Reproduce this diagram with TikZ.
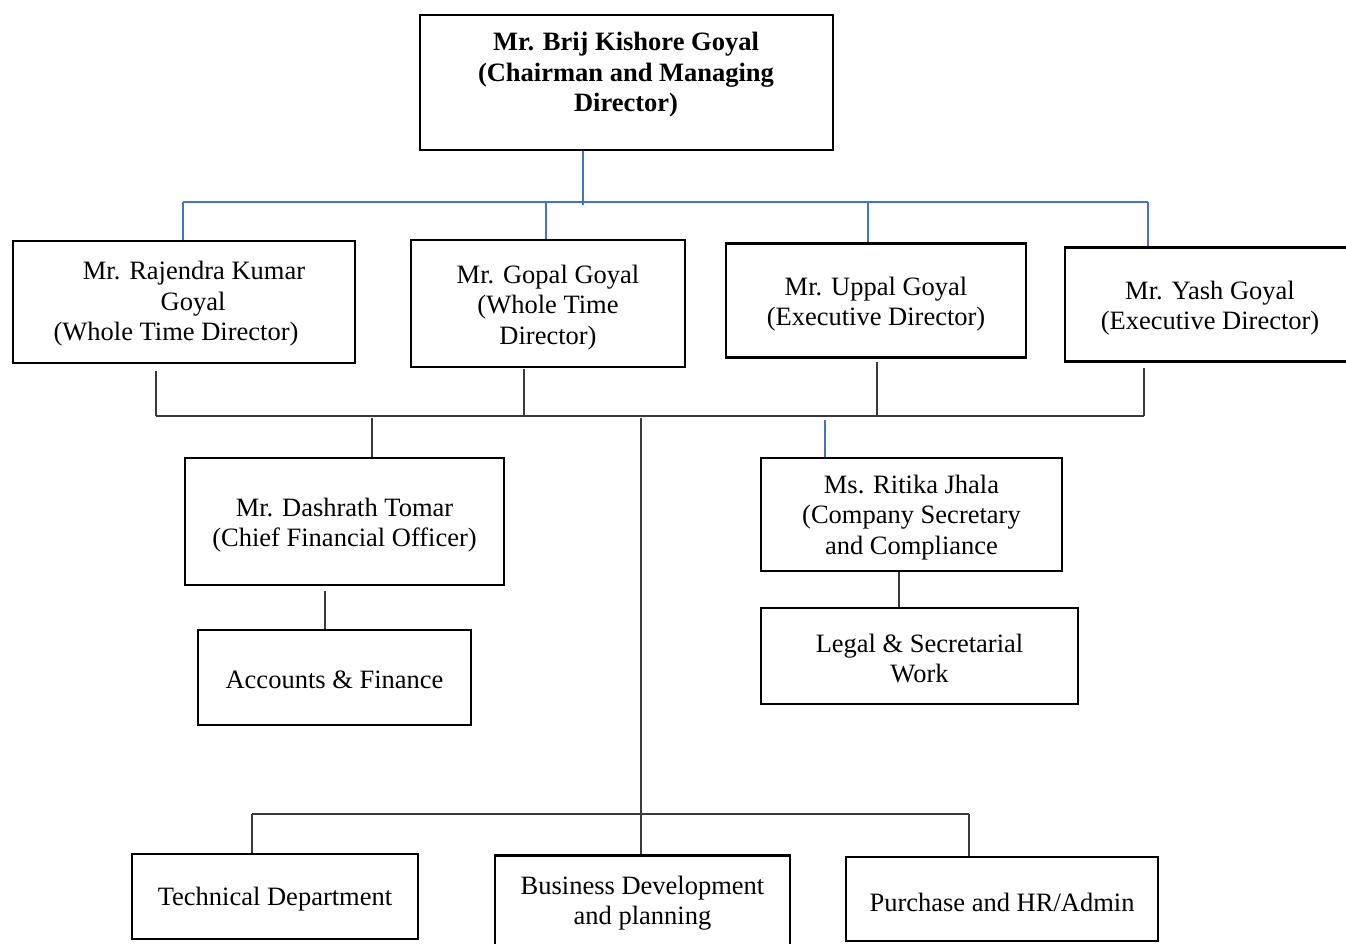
\documentclass[tikz,border=0pt]{standalone}
\usepackage{fontspec}
\setmainfont{Liberation Serif}
\definecolor{bluec}{HTML}{4472C4}
\definecolor{greyc}{HTML}{3A3A3A}
\begin{document}
\begin{tikzpicture}[x=1pt,y=-1pt,
  box/.style={draw=black, line width=2.6pt, inner sep=0pt},
  topbox/.style={draw=black, line width=1.1pt, inner sep=0pt},
  txt/.style={align=center, inner sep=0pt, font=\fontsize{26.5}{30.5}\selectfont},
  titletext/.style={txt, font=\fontsize{26.5}{30.5}\selectfont\bfseries},
  blueline/.style={draw=bluec, line width=1.3pt},
  greyline/.style={draw=greyc, line width=1.6pt}]
\useasboundingbox (0,0) rectangle (1346,943);

% boxes
\node[topbox, minimum width=413, minimum height=135] (cmd) at (626.5,82.5) {};
\node[titletext] (cmdtxt) at (626,75) {Mr. Brij Kishore Goyal\\(Chairman and Managing\\Director)};

\node[box, minimum width=342, minimum height=122] (rkg) at (184,302) {};
\node[txt] (rkgtxt) at (184,304)
  {\hspace*{20pt}Mr. Rajendra Kumar\\\hspace*{18pt}Goyal\\(Whole Time Director)\hspace*{16pt}};
\node[box, minimum width=274, minimum height=127] (gg) at (548,303.5) {};
\node[txt] (ggtxt) at (548,307.5) {Mr. Gopal Goyal\\(Whole Time\\Director)};
\node[box, minimum width=300, minimum height=114] (ug) at (876,300.5) {};
\node[txt] (ugtxt) at (876,304) {Mr. Uppal Goyal\\(Executive Director)};
\node[box, minimum width=295, minimum height=114] (yg) at (1212.5,304.5) {};
\node[txt] (ygtxt) at (1210,308) {Mr. Yash Goyal\\(Executive Director)};

\node[box, minimum width=319, minimum height=127] (dt) at (344.5,521.5) {};
\node[txt] (dttxt) at (344.5,525) {Mr. Dashrath Tomar\\(Chief Financial Officer)};
\node[box, minimum width=273, minimum height=95] (af) at (334.5,677.5) {};
\node[txt] (aftxt) at (334.5,679.5) {Accounts \& Finance};
\node[box, minimum width=301, minimum height=113] (rj) at (911.5,514.5) {};
\node[txt] (rjtxt) at (911.5,517.5) {Ms. Ritika Jhala\\(Company Secretary\\and Compliance};
\node[box, minimum width=317, minimum height=96] (ls) at (919.5,656) {};
\node[txt] (lstxt) at (919.5,658.5) {Legal \& Secretarial\\Work};

\node[box, minimum width=286, minimum height=85] (td) at (275,896.5) {};
\node[txt] (tdtxt) at (275,899.5) {Technical Department};
\node[box, minimum width=295, minimum height=90] (bd) at (642.5,900.5) {};
\node[txt] (bdtxt) at (642.5,903) {Business Development\\and planning};
\node[box, minimum width=312, minimum height=84] (ph) at (1002,899) {};
\node[txt] (phtxt) at (1002,902) {Purchase and HR/Admin};

% blue connectors from chairman
\coordinate (bj) at (583,205);
\coordinate (b1) at (183,202);
\coordinate (b2) at (546,202);
\coordinate (b3) at (868,202);
\coordinate (b4) at (1148,202);
\draw[blueline] (cmd.south -| bj) -- (bj);
\draw[blueline] (b1) -- (b4);
\draw[blueline] (b1) -- (b1 |- rkg.north);
\draw[blueline] (b2) -- (b2 |- gg.north);
\draw[blueline] (b3) -- (b3 |- ug.north);
\draw[blueline] (b4) -- (b4 |- yg.north);

% grey bus under directors
\coordinate (g1) at (156,371);
\coordinate (g2) at (524,369);
\coordinate (g3) at (877,362);
\coordinate (g4) at (1144,368);
\coordinate (gl) at (156,416);
\coordinate (gr) at (1144,416);
\draw[greyline] (gl) -- (gr);
\draw[greyline] (g1) -- (g1 |- gl);
\draw[greyline] (g2) -- (g2 |- gl);
\draw[greyline] (g3) -- (g3 |- gl);
\draw[greyline] (g4) -- (g4 |- gl);

\coordinate (d1) at (372,418);
\coordinate (d2) at (641,418);
\coordinate (d3) at (825,420);
\draw[greyline] (d1) -- (d1 |- dt.north);
\draw[greyline] (d2) -- (d2 |- bd.north);
\draw[blueline] (d3) -- (d3 |- rj.north);

\coordinate (a1) at (325,591);
\draw[greyline] (a1) -- (a1 |- af.north);
\coordinate (l1) at (899,570);
\draw[greyline] (l1 |- rj.south) -- (l1 |- ls.north);

% bottom bus
\coordinate (t1) at (252,814);
\coordinate (t2) at (969,814);
\draw[greyline] (t1) -- (t2);
\draw[greyline] (t1) -- (t1 |- td.north);
\draw[greyline] (t2) -- (t2 |- ph.north);
\end{tikzpicture}
\end{document}
